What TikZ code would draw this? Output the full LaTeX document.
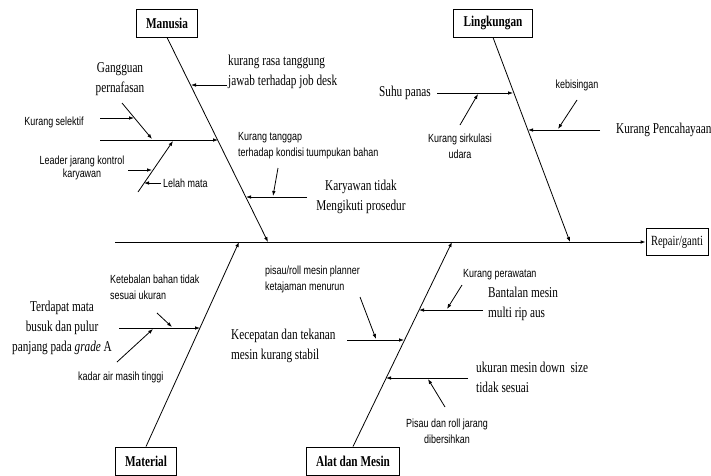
\documentclass[tikz,border=0pt]{standalone}
\usepackage{fontspec}
\setmainfont{Liberation Serif}[FakeStretch=0.75]
\newfontfamily\sansn{Liberation Sans}[FakeStretch=0.76]
\usetikzlibrary{arrows.meta}
\begin{document}
\begin{tikzpicture}[x=1pt,y=-1pt,
  line/.style={draw=black,line width=0.8pt},
  arr/.style={line,-{Latex[length=5pt,width=3.6pt]}},
  ser/.style={inner sep=0pt,font=\fontsize{15}{20}\selectfont},
  san/.style={inner sep=0pt,font=\sansn\fontsize{11.8}{16}\selectfont},
  cat/.style={draw=black,line width=0.9pt,inner xsep=10pt,minimum height=28pt,font=\fontsize{15}{20}\selectfont\bfseries},
]
\useasboundingbox (0,0) rectangle (711,475);
% category boxes
\node[cat] (man) at (167,23) {Manusia};
\node[cat] (lin) at (493,23) {Lingkungan};
\node[cat] (mat) at (146,461) {Material};
\node[cat] (ala) at (353,461) {Alat dan Mesin};
\node[draw=black,line width=0.9pt,inner xsep=5pt,minimum height=27pt,font=\fontsize{14}{18}\selectfont] (rep) at (677,242) {Repair/ganti};
% spine
\coordinate (s0) at (115,242);
\draw[arr] (s0) -- (rep.west);
% bones
\coordinate (mb) at (268,242);
\coordinate (lb) at (570,242);
\coordinate (tb) at (239,242);
\coordinate (ab) at (452,242);
\draw[arr] (man.south) -- (mb);
\draw[arr] (lin.south) -- (lb);
\draw[arr] (mat.north) -- (tb);
\draw[arr] (ala.north) -- (ab);

% ---------- Manusia ----------
\node[ser,align=left,anchor=west] (kj) at (228,72) {kurang rasa tanggung\\jawab terhadap job desk};
\node[ser,align=center] (gp) at (120,79) {Gangguan\\pernafasan};
\node[ser,align=center] (kt) at (361,197) {Karyawan tidak\\Mengikuti prosedur};
\node[san] (ks) at (54,122) {Kurang selektif};
\node[san,align=center,font=\sansn\fontsize{11.8}{13}\selectfont] (lj) at (82,168) {Leader jarang kontrol\\karyawan};
\node[san,anchor=west] (lm) at (163,183) {Lelah mata};
\node[san,align=left,anchor=west] (ktg) at (238,146) {Kurang tanggap\\terhadap kondisi tuumpukan bahan};

\coordinate (m1a) at (227,85); \coordinate (m1b) at (191,85);
\draw[arr] (m1a) -- (m1b);
\coordinate (mh0) at (100,140); \coordinate (mh1) at (218,140);
\draw[arr] (mh0) -- (mh1);
\coordinate (g0) at (122,103); \coordinate (g1) at (152,139);
\draw[arr] (g0) -- (g1);
\coordinate (se0) at (100,118); \coordinate (se1) at (134,118);
\draw[arr] (se0) -- (se1);
\coordinate (l0) at (138,192); \coordinate (l1) at (173,141);
\draw[arr] (l0) -- (l1);
\coordinate (ld0) at (128,170); \coordinate (ld1) at (152,170);
\draw[arr] (ld0) -- (ld1);
\coordinate (lm0) at (161,183); \coordinate (lm1) at (144,183);
\draw[arr] (lm0) -- (lm1);
\coordinate (ky0) at (307,197); \coordinate (ky1) at (246,197);
\draw[arr] (ky0) -- (ky1);
\coordinate (kt0) at (278,168); \coordinate (kt1) at (273,196);
\draw[arr] (kt0) -- (kt1);

% ---------- Lingkungan ----------
\node[ser] (sp) at (405,93) {Suhu panas};
\node[ser,anchor=west] (kp) at (616,130) {Kurang Pencahayaan};
\node[san] (kb) at (577,85) {kebisingan};
\node[san,align=center] (ksu) at (460,146) {Kurang sirkulasi\\udara};

\coordinate (su0) at (437,93); \coordinate (su1) at (513,93);
\draw[arr] (su0) -- (su1);
\coordinate (si0) at (460,125); \coordinate (si1) at (478,94);
\draw[arr] (si0) -- (si1);
\coordinate (kb0) at (577,100); \coordinate (kb1) at (558,129);
\draw[arr] (kb0) -- (kb1);
\coordinate (pc0) at (600,130); \coordinate (pc1) at (528,130);
\draw[arr] (pc0) -- (pc1);

% ---------- Material ----------
\node[ser,align=center] (td) at (62,328) {Terdapat mata\\busuk dan pulur\\panjang pada \textit{grade} A};
\node[san,align=left,anchor=west] (kbt) at (110,287) {Ketebalan bahan tidak\\sesuai ukuran};
\node[san,anchor=west] (ka) at (78,377) {kadar air masih tinggi};

\coordinate (th0) at (119,328); \coordinate (th1) at (200,328);
\draw[arr] (th0) -- (th1);
\coordinate (ke0) at (157,313); \coordinate (ke1) at (172,327);
\draw[arr] (ke0) -- (ke1);
\coordinate (ka0) at (117,362); \coordinate (ka1) at (153,329);
\draw[arr] (ka0) -- (ka1);

% ---------- Alat dan Mesin ----------
\node[ser,align=left,anchor=west] (kd) at (231,346) {Kecepatan dan tekanan\\mesin kurang stabil};
\node[ser,align=left,anchor=west] (bm) at (488,304) {Bantalan mesin\\multi rip aus};
\node[ser,align=left,anchor=west] (um) at (476,377) {ukuran mesin down\ \ size\\tidak sesuai};
\node[san,align=left,anchor=west] (pr) at (265,279) {pisau/roll mesin planner\\ketajaman menurun};
\node[san,anchor=west] (kpw) at (463,275) {Kurang perawatan};
\node[san,align=center] (pd) at (447,431) {Pisau dan roll jarang\\dibersihkan};

\coordinate (kc0) at (347,340); \coordinate (kc1) at (404,340);
\draw[arr] (kc0) -- (kc1);
\coordinate (pi0) at (360,297); \coordinate (pi1) at (376,339);
\draw[arr] (pi0) -- (pi1);
\coordinate (bn0) at (483,310); \coordinate (bn1) at (419,310);
\draw[arr] (bn0) -- (bn1);
\coordinate (pw0) at (462,285); \coordinate (pw1) at (447,309);
\draw[arr] (pw0) -- (pw1);
\coordinate (uk0) at (468,378); \coordinate (uk1) at (386,378);
\draw[arr] (uk0) -- (uk1);
\coordinate (pr0) at (445,407); \coordinate (pr1) at (428,379);
\draw[arr] (pr0) -- (pr1);
\end{tikzpicture}
\end{document}
